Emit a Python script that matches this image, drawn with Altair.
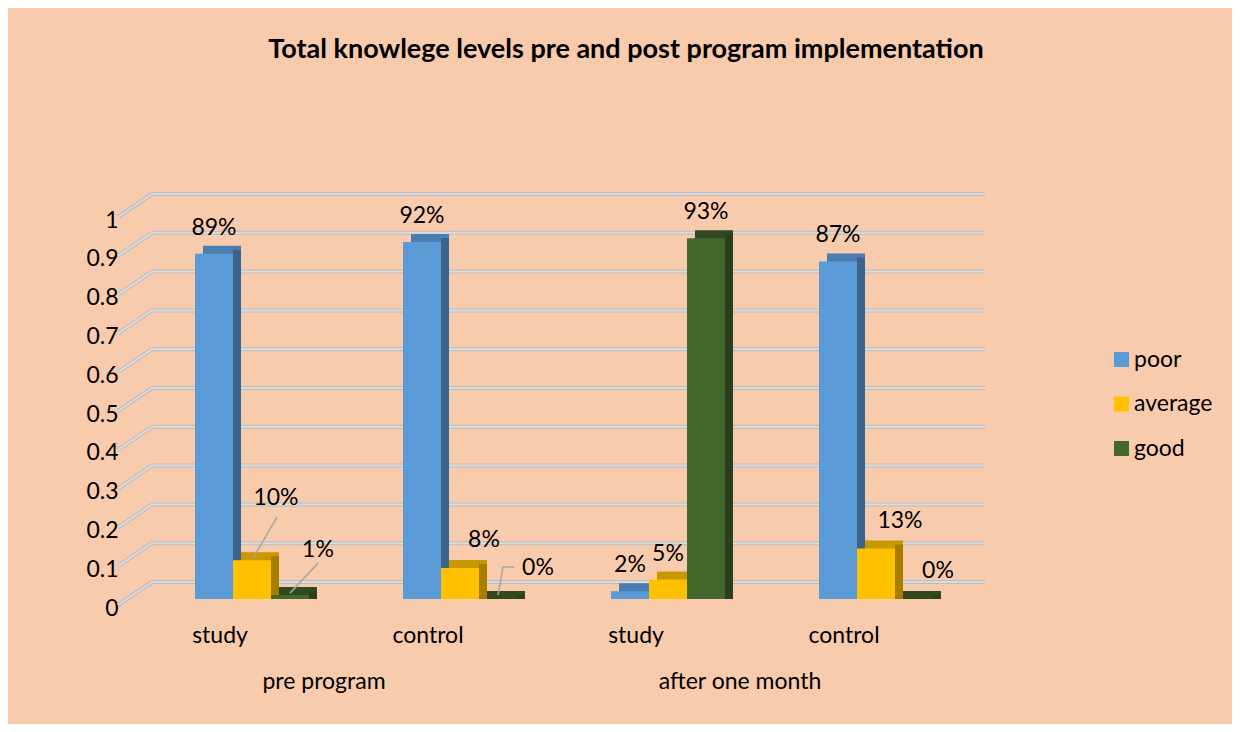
import altair as alt
import pandas as pd

# ---- data -----------------------------------------------------------
periods = ["pre program", "pre program", "after one month", "after one month"]
arms = ["study", "control", "study", "control"]
levels = ["poor", "average", "good"]
poor = [0.89, 0.92, 0.02, 0.87]
average = [0.10, 0.08, 0.05, 0.13]
good = [0.01, 0.00, 0.93, 0.00]
y_ticks = [0, 0.1, 0.2, 0.3, 0.4, 0.5, 0.6, 0.7, 0.8, 0.9, 1.0]

# how each value label is placed ("top" = above the bar)
poor_place = ["top", "top", "top", "top"]
average_place = ["callout_a", "shift", "top", "shift"]
good_place = ["callout_b", "callout_c", "top", "shift"]

front_colors = ["#5B9BD5", "#FFC000", "#43682B"]
top_colors = ["#4A7DB0", "#C99700", "#30491F"]
side_colors = ["#3C6388", "#A67D00", "#2A3F1B"]

keys = [p + "|" + a for p, a in zip(periods, arms)]
rows = []
for li, (lvl, vals, places) in enumerate(
    [("poor", poor, poor_place), ("average", average, average_place), ("good", good, good_place)]
):
    for k, v, pl in zip(keys, vals, places):
        rows.append(dict(key=k, level=lvl, value=v, place=pl,
                         topc=top_colors[li], sidec=side_colors[li]))
df = pd.DataFrame(rows)
grid_df = pd.DataFrame({"value": y_ticks})
outer_df = pd.DataFrame({"key": [keys[0], keys[2]], "period": [periods[0], periods[2]]})

FONT = "Lato"
FS = 23
W, H = 832, 388
STEP = 208
BAR_W = 38
DEPTH = 8
pi = 1 - 3 * BAR_W / STEP
sub = {lvl: (i - 1) * BAR_W for i, lvl in enumerate(levels)}

X = alt.X("key:N", sort=keys,
          scale=alt.Scale(domain=keys, paddingInner=pi, paddingOuter=pi / 2),
          axis=alt.Axis(title=None, labelExpr="split(datum.label, '|')[1]",
                        labelOffset=-32, labelPadding=25, labelAngle=0))
Y = alt.Y("value:Q", stack=None,
          scale=alt.Scale(domain=[0, 1], nice=False, zero=True),
          axis=alt.Axis(title=None, values=y_ticks, format="~g",
                        labelOffset=9, labelPadding=30))
XO = alt.XOffset("level:N", sort=levels, scale=alt.Scale(paddingInner=0, paddingOuter=0))

# back-wall gridlines and the left side-wall edges
grid_dark = alt.Chart(grid_df).mark_rule(color="#BBBBBB", strokeWidth=4, yOffset=-17).encode(
    y=Y, x=alt.value(4), x2=alt.value(837))
grid_light = alt.Chart(grid_df).mark_rule(color="#DCDCDC", strokeWidth=2, yOffset=-17).encode(
    y=Y, x=alt.value(4), x2=alt.value(837))
diag_dark = alt.Chart(grid_df).mark_rule(color="#BBBBBB", strokeWidth=4, yOffset=6, y2Offset=-17).encode(
    y=Y, y2=alt.Y2("value:Q"), x=alt.value(-30), x2=alt.value(4))
diag_light = alt.Chart(grid_df).mark_rule(color="#DCDCDC", strokeWidth=2, yOffset=6, y2Offset=-17).encode(
    y=Y, y2=alt.Y2("value:Q"), x=alt.value(-30), x2=alt.value(4))

base = alt.Chart(df)

# pseudo-3D faces (top and side), one layer per level
face_layers = []
for lvl in levels:
    b = base.transform_filter(alt.datum.level == lvl)
    face_layers.append(
        b.mark_bar(width=BAR_W, xOffset=sub[lvl] + DEPTH, yOffset=-DEPTH, y2Offset=0).encode(
            x=X, y=Y, y2=alt.datum(0), color=alt.Color("topc:N", scale=None)))
    face_layers.append(
        b.mark_bar(width=DEPTH, xOffset=sub[lvl] + BAR_W / 2 + DEPTH / 2,
                   yOffset=-DEPTH / 2, y2Offset=0).encode(
            x=X, y=Y, y2=alt.datum(0), color=alt.Color("sidec:N", scale=None)))

front = base.mark_bar().encode(
    x=X, xOffset=XO, y=Y,
    color=alt.Color("level:N", sort=levels,
                    scale=alt.Scale(domain=levels, range=front_colors),
                    legend=alt.Legend(title=None, orient="none", legendX=962, legendY=137,
                                      symbolType="square", symbolSize=225, symbolStrokeWidth=0,
                                      symbolOpacity=1, labelFontSize=FS, labelFont=FONT,
                                      labelColor="#000000", rowPadding=20.5, labelOffset=1)))

styles = {
    "top": (0, -26),
    "shift": (24, -28),
    "callout_a": (24, -62),
    "callout_b": (28, -45),
    "callout_c": (40, -31),
}
label_layers = []
for name, (dx, dy) in styles.items():
    label_layers.append(
        base.transform_filter(alt.datum.place == name).mark_text(
            dx=dx, dy=dy, fontSize=FS, font=FONT, color="#000000", baseline="middle").encode(
            x=X, xOffset=XO, y=Y, text=alt.Text("value:Q", format=".0%")))

# leader lines of the callout labels: (level, segments)
leaders = {
    "callout_a": ("average", [(1, -2, 25, -43)]),
    "callout_b": ("good", [(0, -2, 28, -32)]),
    "callout_c": ("good", [(0, -4, 5, -32), (5, -32, 16, -32)]),
}
leader_layers = []
for name, (lvl, segs) in leaders.items():
    for (x1, y1, x2, y2) in segs:
        leader_layers.append(
            base.transform_filter(alt.datum.place == name).mark_rule(
                color="#A6A6A6", strokeWidth=1.5, xOffset=sub[lvl] + x1, yOffset=y1,
                x2Offset=sub[lvl] + x2, y2Offset=y2).encode(
                x=X, x2=alt.X2("key:N"), y=Y, y2=alt.Y2("value:Q")))

outer = alt.Chart(outer_df).mark_text(dx=STEP / 2 - 32, fontSize=FS, font=FONT, color="#000000",
                                      baseline="middle").encode(
    x=X, y=alt.value(471), text="period:N")

chart = alt.layer(
    grid_dark, grid_light, diag_dark, diag_light, *face_layers, front,
    *label_layers, *leader_layers, outer
).properties(
    width=W, height=H,
    title=alt.Title("Total knowlege levels pre and post program implementation",
                    fontSize=27, font=FONT, fontWeight="bold", color="#000000",
                    anchor="middle", dx=62, offset=128),
    padding={"left": 140, "top": 203, "right": 252, "bottom": 125},
    autosize=alt.AutoSizeParams(type="none"),
).configure(background="#F8CBAD").configure_view(stroke=None).configure_axis(
    domain=False, ticks=False, grid=False, labelFontSize=FS, labelFont=FONT, labelColor="#000000"
)

chart.save("out.html", embed_options={"renderer": "svg", "actions": False})
